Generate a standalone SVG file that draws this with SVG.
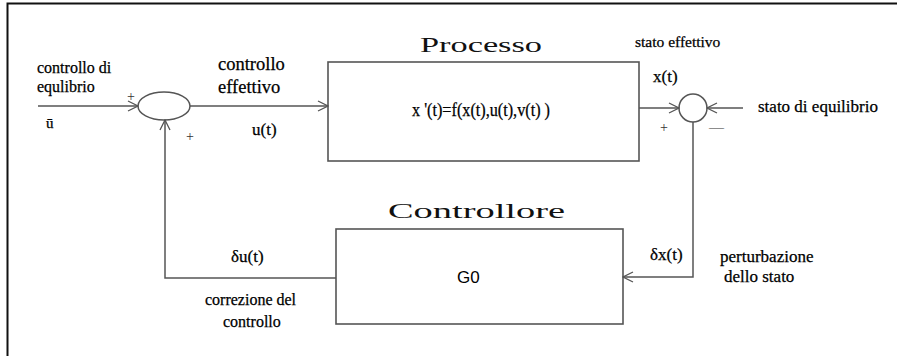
<svg xmlns="http://www.w3.org/2000/svg" width="897" height="356" viewBox="0 0 897 356">
<style>
.ln{fill:none;stroke:#555;stroke-width:1.5}
.box{fill:#fff;stroke:#555;stroke-width:1.6}
.t{font-family:"Liberation Serif","Times New Roman","DejaVu Serif",serif;fill:#000;stroke:#000;stroke-width:0.25}
.h{font-family:"Liberation Serif","Times New Roman","DejaVu Serif",serif;fill:#111}
.s{font-family:"Liberation Sans",Arial,sans-serif;fill:#000}
.p{font-family:"Liberation Serif","Times New Roman",serif;fill:#333}
</style>
<defs>
<marker id="ah" viewBox="0 0 12 12" refX="11" refY="6" markerWidth="12" markerHeight="12" markerUnits="userSpaceOnUse" orient="auto">
<path d="M1,1 L11,6 L1,11" fill="none" stroke="#555" stroke-width="1.3"/>
</marker>
</defs>
<rect width="897" height="356" fill="#fff"/>
<path d="M7.5,356 V3.5 H897" fill="none" stroke="#111" stroke-width="2"/>

<g id="junction-left">
<ellipse cx="164" cy="106" rx="26" ry="14" class="ln"/>
<text x="127" y="101" class="p" font-size="14">+</text>
<text x="186" y="141" class="p" font-size="14">+</text>
</g>

<g id="processo">
<rect x="328" y="62" width="311" height="99" class="box"/>
<text x="420" y="52" class="h" font-size="21" textLength="122" lengthAdjust="spacingAndGlyphs">Processo</text>
<text x="412" y="116" class="t" font-size="18" textLength="138" lengthAdjust="spacingAndGlyphs">x '(t)=f(x(t),u(t),v(t) )</text>
</g>

<g id="junction-right">
<circle cx="693" cy="108" r="14" class="ln"/>
<text x="660" y="132" class="p" font-size="14">+</text>
<text x="709" y="132" class="p" font-size="15">—</text>
</g>

<g id="controllore">
<rect x="336" y="229" width="287" height="95" class="box"/>
<text x="388" y="218" class="h" font-size="21" textLength="177" lengthAdjust="spacingAndGlyphs">Controllore</text>
<text x="457" y="283" class="s" font-size="17">G0</text>
</g>

<g id="labels">
<text x="37" y="73" class="t" font-size="16">controllo di</text>
<text x="37" y="92" class="t" font-size="16">equlibrio</text>
<text x="46" y="128" class="t" font-size="15">ū</text>
<text x="218" y="70" class="t" font-size="18.5">controllo</text>
<text x="218" y="93" class="t" font-size="18.5">effettivo</text>
<text x="252" y="135" class="t" font-size="17">u(t)</text>
<text x="635" y="47" class="t" font-size="15.5">stato effettivo</text>
<text x="653" y="82" class="t" font-size="17">x(t)</text>
<text x="758" y="112" class="t" font-size="17">stato di equilibrio</text>
<text x="231" y="262" class="t" font-size="17">δu(t)</text>
<text x="205" y="305" class="t" font-size="16">correzione del</text>
<text x="223" y="327" class="t" font-size="16">controllo</text>
<text x="650" y="260" class="t" font-size="17">δx(t)</text>
<text x="720" y="262" class="t" font-size="17">perturbazione</text>
<text x="724" y="282" class="t" font-size="17">dello stato</text>
</g>

<g id="connectors">
<path d="M38,106 H138" class="ln" marker-end="url(#ah)"/>
<path d="M190,106 H328" class="ln" marker-end="url(#ah)"/>
<path d="M639,108 H679" class="ln" marker-end="url(#ah)"/>
<path d="M743,108 H707" class="ln" marker-end="url(#ah)"/>
<path d="M693,122 V277 H623" class="ln" marker-end="url(#ah)"/>
<path d="M336,278 H165 V120" class="ln" marker-end="url(#ah)"/>
</g>
</svg>
